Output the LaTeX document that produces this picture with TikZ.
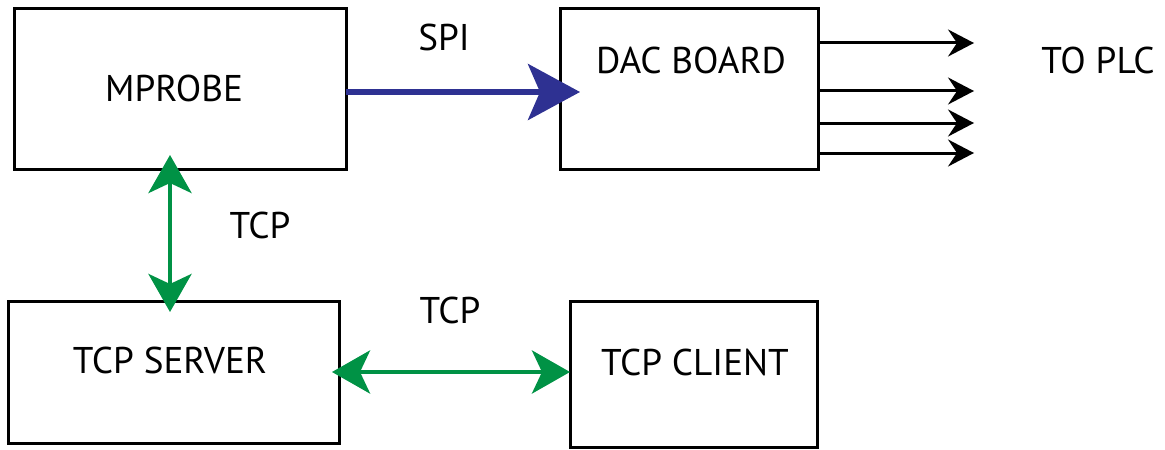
\documentclass[tikz,border=0pt]{standalone}
\usepackage{fontspec}
\setmainfont{PT Sans}
\usetikzlibrary{arrows.meta,calc}
\definecolor{spiblue}{RGB}{46,49,146}
\definecolor{tcpgreen}{RGB}{0,146,69}
\begin{document}
\begin{tikzpicture}[x=0.5pt,y=-0.5pt,
  box/.style={draw=black,line width=1.5pt,rectangle,inner sep=0pt,outer sep=0pt},
  lbl/.style={inner sep=0pt,outer sep=0pt,font=\fontsize{18.6}{21}\selectfont},
  spi/.style={draw=spiblue,line width=2.8pt,-{Stealth[length=26pt,width=28pt,inset=6pt]}},
  tcp/.style={draw=tcpgreen,line width=2.3pt,{Stealth[length=19pt,width=21.5pt,inset=5pt]}-{Stealth[length=19pt,width=21.5pt,inset=5pt]}},
  plc/.style={draw=black,line width=1.5pt,-{Stealth[length=13pt,width=13.5pt,inset=4.5pt]}}]
\useasboundingbox (0,0) rectangle (1165,449);
% boxes
\node[box,minimum width=166pt,minimum height=80pt] (mprobe) at (180,89) {};
\node[box,minimum width=129pt,minimum height=80pt] (dac) at (689,89) {};
\node[box,minimum width=165.5pt,minimum height=71pt] (server) at (173.5,372) {};
\node[box,minimum width=123.5pt,minimum height=73pt] (client) at (693.5,374) {};
% box texts
\node[lbl] (tmprobe) at (174,88) {MPROBE};
\node[lbl] (tdac) at (691,60) {DAC BOARD};
\node[lbl] (tserver) at (170,360) {TCP SERVER};
\node[lbl] (tclient) at (695,362) {TCP CLIENT};
% connector labels
\node[lbl] (lspi) at (444,37) {SPI};
\node[lbl] (ltcp1) at (260,225) {TCP};
\node[lbl] (ltcp2) at (450,310) {TCP};
\node[lbl] (lplc) at (1098,60) {TO PLC};
% connectors
\draw[spi] ($(mprobe.east)+(0,3)$) -- ($(dac.west)+(20,3)$);
\draw[tcp] ($(mprobe.south)+(-10,-14)$) -- ($(server.north)+(-3.5,11)$);
\draw[tcp] ($(server.east)+(-7,0)$) -- (server.east -| client.west);
\draw[plc] ($(dac.north east)+(0,34)$) -- ++(156,0);
\draw[plc] ($(dac.north east)+(0,82)$) -- ++(156,0);
\draw[plc] ($(dac.north east)+(0,114)$) -- ++(156,0);
\draw[plc] ($(dac.north east)+(0,144)$) -- ++(156,0);
\end{tikzpicture}
\end{document}
